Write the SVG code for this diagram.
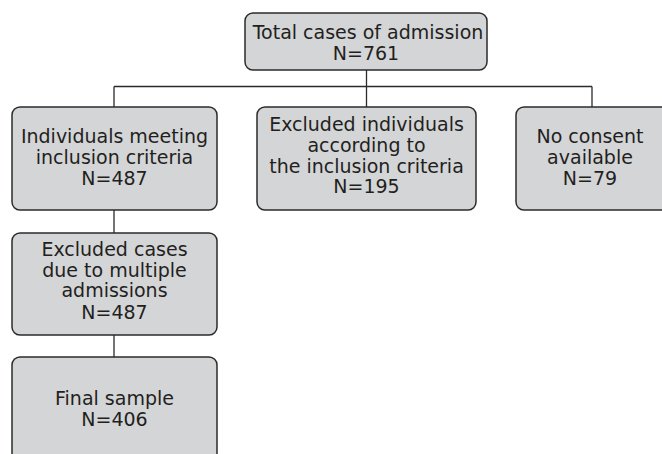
<svg xmlns="http://www.w3.org/2000/svg" width="662" height="454" viewBox="0 0 662 454">
<style>
.box{fill:#d4d5d7;stroke:#2b2b2b;stroke-width:1.5}
.t{font-family:"DejaVu Sans",sans-serif;font-size:19px;fill:#231f20;text-anchor:middle}
.c{stroke:#2b2b2b;stroke-width:1.3;fill:none}
</style>
<rect width="662" height="454" fill="#ffffff"/>
<g id="connectors">
<path class="c" d="M366.5 70V86.5M114 86.5H592M114 86.5V107M366.5 86.5V107M592 86.5V107M114 210V233M114 335V357"/>
</g>
<g id="total">
<rect class="box" x="245" y="13" width="242" height="57" rx="8"/>
<text class="t" x="368" y="39">Total cases of admission</text>
<text class="t" x="366" y="60">N=761</text>
</g>
<g id="meeting">
<rect class="box" x="12" y="107" width="205" height="103" rx="8"/>
<text class="t" x="114.5" y="143">Individuals meeting</text>
<text class="t" x="114.5" y="164">inclusion criteria</text>
<text class="t" x="114.5" y="185">N=487</text>
</g>
<g id="excluded">
<rect class="box" x="257" y="107" width="219" height="103" rx="8"/>
<text class="t" x="366.5" y="131">Excluded individuals</text>
<text class="t" x="366.5" y="152">according to</text>
<text class="t" x="366.5" y="173">the inclusion criteria</text>
<text class="t" x="366.5" y="193">N=195</text>
</g>
<g id="noconsent">
<rect class="box" x="516" y="107" width="160" height="103" rx="8"/>
<text class="t" x="590" y="143">No consent</text>
<text class="t" x="590" y="164">available</text>
<text class="t" x="590" y="185">N=79</text>
</g>
<g id="multiple">
<rect class="box" x="12" y="233" width="205" height="102" rx="8"/>
<text class="t" x="114.5" y="256">Excluded cases</text>
<text class="t" x="114.5" y="277">due to multiple</text>
<text class="t" x="114.5" y="297">admissions</text>
<text class="t" x="114.5" y="319">N=487</text>
</g>
<g id="final">
<rect class="box" x="12" y="357" width="205" height="104" rx="8"/>
<text class="t" x="114.5" y="405">Final sample</text>
<text class="t" x="114.5" y="426">N=406</text>
</g>
</svg>
